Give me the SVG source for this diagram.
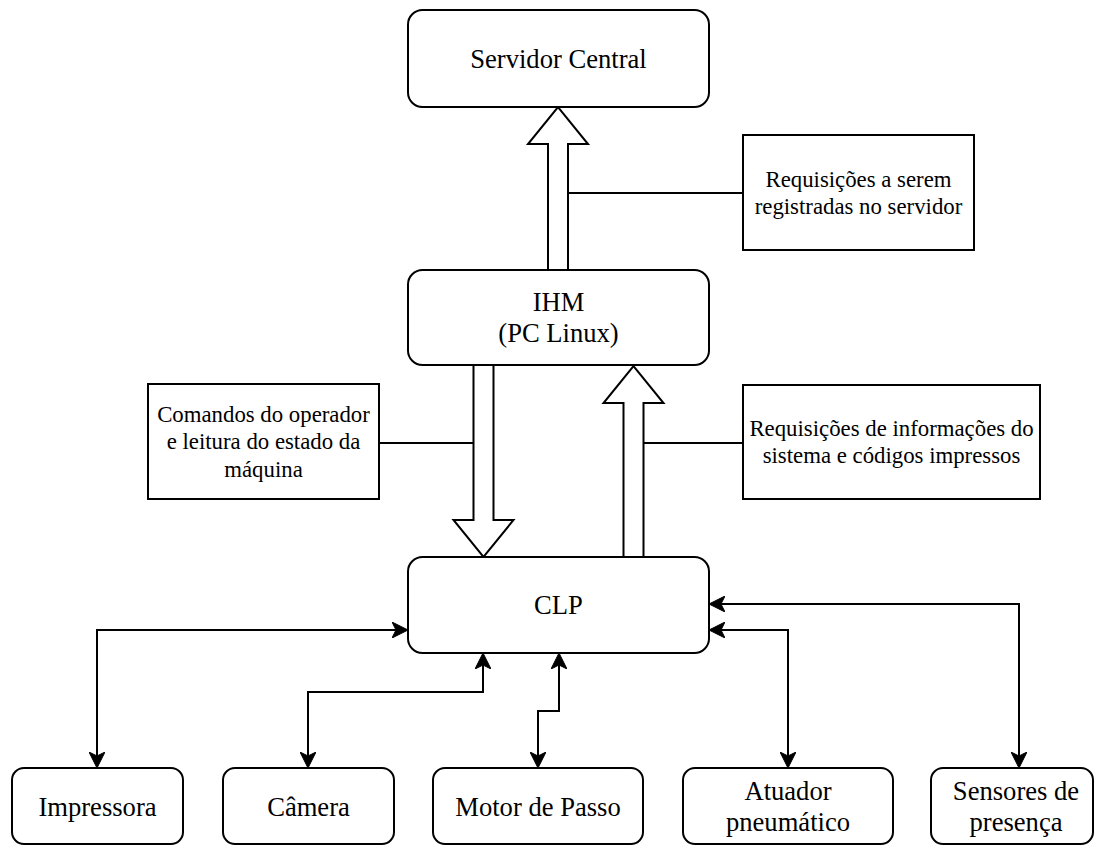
<svg xmlns="http://www.w3.org/2000/svg" width="1095" height="845" viewBox="0 0 1095 845">
  <style>
    .box { fill: #ffffff; stroke: #000000; stroke-width: 2; }
    .note { fill: #ffffff; stroke: #000000; stroke-width: 2; }
    .block { fill: #ffffff; stroke: #000000; stroke-width: 2; stroke-linejoin: miter; }
    .link { fill: none; stroke: #000000; stroke-width: 2; }
    .wire { fill: none; stroke: #000000; stroke-width: 2; marker-start: url(#head); marker-end: url(#head); }
    .big { font-family: "Liberation Serif", "Times New Roman", serif; font-size: 26.6px; fill: #000000; text-anchor: middle; }
    .small { font-family: "Liberation Serif", "Times New Roman", serif; font-size: 22.8px; fill: #000000; text-anchor: middle; }
  </style>
  <defs>
    <marker id="head" viewBox="0 0 16 16" refX="6" refY="8" markerWidth="16" markerHeight="16" markerUnits="userSpaceOnUse" orient="auto-start-reverse">
      <path d="M0,0 L16,8 L0,16 L4,8 Z" fill="#000000" stroke="#000000" stroke-width="1" stroke-linejoin="miter"/>
    </marker>
  </defs>

  <rect width="1095" height="845" fill="#ffffff"/>

  <!-- connectors -->
  <g id="connectors">
    <!-- block arrows between main nodes -->
    <polygon class="block" points="548,270 548,144 528,144 558,107 588,144 568,144 568,270"/>
    <polygon class="block" points="473.5,365 473.5,520 453.5,520 483.5,557 513.5,520 493.5,520 493.5,365"/>
    <polygon class="block" points="623.5,557 623.5,403 603.5,403 633.5,366 663.5,403 643.5,403 643.5,557"/>
    <!-- leader lines to annotation boxes -->
    <path class="link" d="M568,193 H743"/>
    <path class="link" d="M379,443 H473.5"/>
    <path class="link" d="M643.5,443 H743"/>
    <!-- CLP to field devices -->
    <path class="wire" d="M398,630 H97 V758"/>
    <path class="wire" d="M483,663 V692 H308 V758"/>
    <path class="wire" d="M559,663 V711 H538 V758"/>
    <path class="wire" d="M719,630 H788 V758"/>
    <path class="wire" d="M719,604 H1019 V758"/>
  </g>

  <g id="servidor">
    <rect class="box" x="408" y="10" width="301" height="97" rx="14.5" ry="14.5"/>
    <text class="big" x="558.5" y="67.5">Servidor Central</text>
  </g>

  <g id="ihm">
    <rect class="box" x="408" y="270" width="301" height="95" rx="14.5" ry="14.5"/>
    <text class="big" x="558.5" y="310.5">IHM</text>
    <text class="big" x="558.5" y="342.4">(PC Linux)</text>
  </g>

  <g id="clp">
    <rect class="box" x="408" y="557" width="301" height="96" rx="14.5" ry="14.5"/>
    <text class="big" x="558.5" y="614">CLP</text>
  </g>

  <g id="nota-servidor">
    <rect class="note" x="743" y="135" width="231" height="115"/>
    <text class="small" x="858.5" y="186.5">Requisições a serem</text>
    <text class="small" x="858.5" y="213.9">registradas no servidor</text>
  </g>

  <g id="nota-comandos">
    <rect class="note" x="148" y="384" width="231" height="115"/>
    <text class="small" x="263.5" y="421.8">Comandos do operador</text>
    <text class="small" x="263.5" y="449.2">e leitura do estado da</text>
    <text class="small" x="263.5" y="476.6">máquina</text>
  </g>

  <g id="nota-requisicoes">
    <rect class="note" x="743" y="385" width="297" height="114"/>
    <text class="small" x="891.5" y="436">Requisições de informações do</text>
    <text class="small" x="891.5" y="463.4">sistema e códigos impressos</text>
  </g>

  <g id="impressora">
    <rect class="box" x="12" y="768" width="171" height="76" rx="12" ry="12"/>
    <text class="big" x="97.5" y="815.5">Impressora</text>
  </g>

  <g id="camera">
    <rect class="box" x="223" y="768" width="171" height="76" rx="12" ry="12"/>
    <text class="big" x="308.5" y="815.5">Câmera</text>
  </g>

  <g id="motor">
    <rect class="box" x="433" y="768" width="210" height="76" rx="12" ry="12"/>
    <text class="big" x="538" y="815.5">Motor de Passo</text>
  </g>

  <g id="atuador">
    <rect class="box" x="683" y="768" width="210" height="76" rx="12" ry="12"/>
    <text class="big" x="788" y="799.5">Atuador</text>
    <text class="big" x="788" y="831.4">pneumático</text>
  </g>

  <g id="sensores">
    <rect class="box" x="931" y="768" width="162" height="76" rx="12" ry="12"/>
    <text class="big" x="1016" y="799.5">Sensores de</text>
    <text class="big" x="1016" y="831.4">presença</text>
  </g>
</svg>
